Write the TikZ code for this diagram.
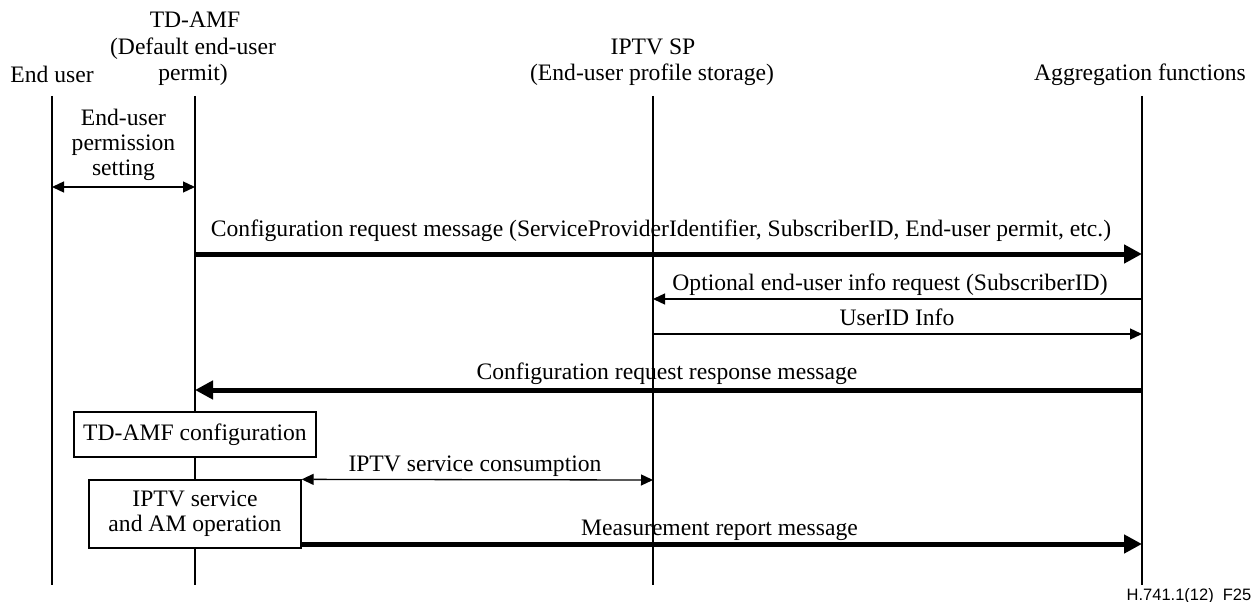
\documentclass[tikz,border=0pt]{standalone}
\usepackage{fontspec}
\setmainfont{Liberation Serif}
\newfontfamily\labelfont{Liberation Sans}
\usetikzlibrary{arrows.meta}
\begin{document}
\begin{tikzpicture}[x=1pt,y=-1pt,
  txt/.style={font=\fontsize{23.6}{25}\selectfont, inner sep=0pt, anchor=base},
  lifeline/.style={line width=1.3pt},
  thinmsg/.style={line width=1.3pt, -{Triangle[length=12pt,width=11pt]}},
  thinboth/.style={line width=1.3pt, {Triangle[length=12pt,width=11pt]}-{Triangle[length=12pt,width=11pt]}},
  thickmsg/.style={line width=5pt, -{Triangle[length=18pt,width=18pt]}},
  boxnode/.style={draw, line width=1.3pt, inner sep=0pt, align=center, font=\fontsize{23.6}{25}\selectfont},
  figlabel/.style={font=\labelfont\fontsize{16.5}{18}\selectfont, inner sep=0pt, anchor=base}
]
\useasboundingbox (0,0) rectangle (1259,602);

% headers
\node[txt] (hTDa) at (195,28) {TD-AMF};
\node[txt] (hTDb) at (193,54.5) {(Default end-user};
\node[txt] (hTDc) at (193,81) {permit)};
\node[txt] (hEU) at (52,83) {End user};
\node[txt] (hSPa) at (653,54.5) {IPTV SP};
\node[txt] (hSPb) at (652,81) {(End-user profile storage)};
\node[txt] (hAG) at (1140,81) {Aggregation functions};

% lifelines
\coordinate (euT) at (52,96);   \coordinate (euB) at (52,585);
\coordinate (tdT) at (195,96);  \coordinate (tdB) at (195,585);
\coordinate (spT) at (653,96);  \coordinate (spB) at (653,585);
\coordinate (agT) at (1142,96); \coordinate (agB) at (1142,585);

% boxes on TD-AMF lifeline
\node[boxnode, minimum width=242pt, minimum height=45pt] (cfg) at (195,434.5) {TD-AMF configuration};
\node[boxnode, minimum width=212pt, minimum height=68pt] (ops) at (195,514) {IPTV service\\and AM operation};

\draw[lifeline] (euT) -- (euB);
\draw[lifeline] (tdT) -- (cfg.north);
\draw[lifeline] (cfg.south) -- (ops.north);
\draw[lifeline] (ops.south) -- (tdB);
\draw[lifeline] (spT) -- (spB);
\draw[lifeline] (agT) -- (agB);

% end-user permission setting
\node[txt] (perm1) at (123.5,125) {End-user};
\node[txt] (perm2) at (123.5,150) {permission};
\node[txt] (perm3) at (123.5,175) {setting};
\coordinate (p0a) at (52,187); \coordinate (p0b) at (195,187);
\draw[thinboth] (p0a) -- (p0b);

% configuration request
\node[txt] (l1) at (661,236) {Configuration request message (ServiceProviderIdentifier, SubscriberID, End-user permit, etc.)};
\coordinate (m1a) at (195,254); \coordinate (m1b) at (1142,254);
\draw[thickmsg] (m1a) -- (m1b);

% optional info request
\node[txt] (l2) at (890,290) {Optional end-user info request (SubscriberID)};
\coordinate (m2a) at (1142,299); \coordinate (m2b) at (653,299);
\draw[thinmsg] (m2a) -- (m2b);

% userID info
\node[txt] (l3) at (897,325) {UserID Info};
\coordinate (m3a) at (653,334); \coordinate (m3b) at (1142,334);
\draw[thinmsg] (m3a) -- (m3b);

% configuration response
\node[txt] (l4) at (667,379) {Configuration request response message};
\coordinate (m4a) at (1142,390); \coordinate (m4b) at (195,390);
\draw[thickmsg] (m4a) -- (m4b);

% service consumption
\node[txt] (l5) at (475,471) {IPTV service consumption};
\coordinate (m5b) at (653,480);
\draw[thinboth] (ops.north east) -- (m5b);

% measurement report
\node[txt] (l6) at (719.5,535) {Measurement report message};
\coordinate (m6a) at (301,544); \coordinate (m6b) at (1142,544);
\draw[thickmsg] (m6a) -- (m6b);

% figure label
\node[figlabel] (fig) at (1189,600) {H.741.1(12)\hspace{0.55em}F25};
\end{tikzpicture}
\end{document}
